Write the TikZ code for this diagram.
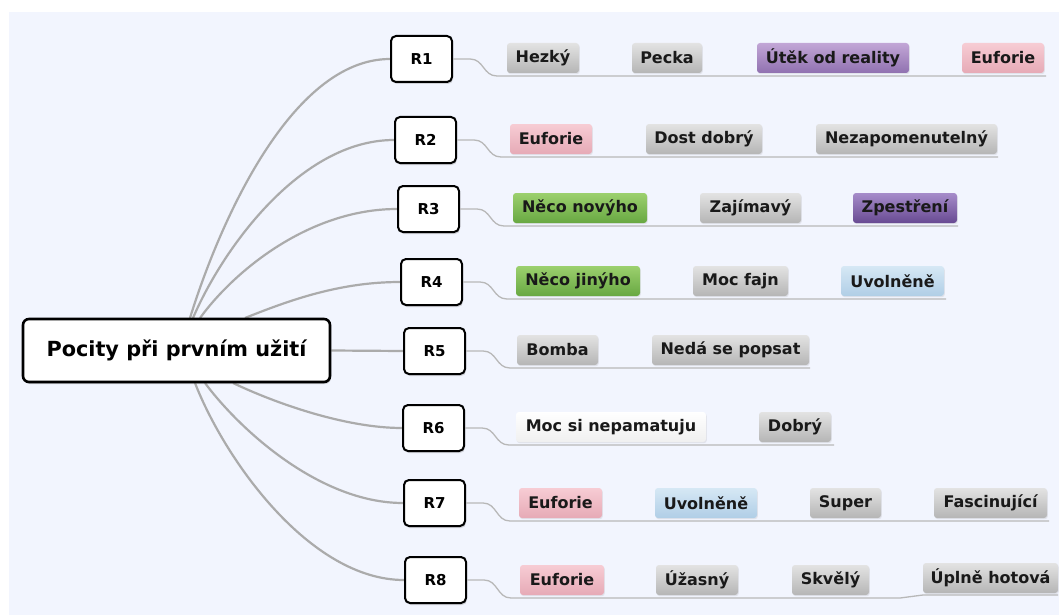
\documentclass[tikz,border=0pt]{standalone}
\usepackage{fontspec}
\setmainfont{DejaVu Sans}
\usetikzlibrary{shadows,backgrounds}
\definecolor{bgc}{HTML}{F2F5FE}
\definecolor{brc}{HTML}{ABABAB}
\definecolor{subc}{HTML}{B8B8B8}
\tikzset{
  rbox/.style={draw=black, fill=white, line width=2pt, rounded corners=5pt, minimum width=61pt, minimum height=46pt, inner sep=0pt, font=\fontsize{15}{18}\selectfont\bfseries, drop shadow={opacity=0.3, shadow xshift=1pt, shadow yshift=-2pt}},
  mainbox/.style={draw=black, fill=white, line width=2.6pt, rounded corners=6pt, minimum width=307pt, minimum height=63pt, inner sep=0pt, font=\fontsize{20.8}{24}\selectfont\bfseries, drop shadow={opacity=0.3, shadow xshift=1pt, shadow yshift=-2pt}},
  tag/.style={rounded corners=3pt, minimum height=30pt, inner sep=0pt, text=black!90, font=\fontsize{16}{18}\selectfont\bfseries, drop shadow={opacity=0.15, shadow xshift=0.8pt, shadow yshift=-1.2pt}},
  gtag/.style={tag, top color=gray!22, bottom color=gray!58},
  ptag/.style={tag, top color={rgb,255:red,247;green,204;blue,212}, bottom color={rgb,255:red,230;green,170;blue,182}},
  vtag/.style={tag, top color={rgb,255:red,194;green,166;blue,214}, bottom color={rgb,255:red,144;green,113;blue,176}},
  dvtag/.style={tag, top color={rgb,255:red,166;green,140;blue,202}, bottom color={rgb,255:red,104;green,74;blue,146}},
  etag/.style={tag, top color={rgb,255:red,156;green,208;blue,110}, bottom color={rgb,255:red,104;green,168;blue,66}},
  btag/.style={tag, top color={rgb,255:red,214;green,232;blue,245}, bottom color={rgb,255:red,176;green,206;blue,230}},
  wtag/.style={tag, top color=white, bottom color=gray!12},
  branch/.style={draw=brc, line width=2.2pt},
  subline/.style={draw=subc, line width=1.3pt},
}
\begin{document}
\begin{tikzpicture}[x=1pt,y=-1pt]
\useasboundingbox (0,0) rectangle (1059,615);
\begin{scope}[on background layer]
\fill[bgc] (9,12) rectangle (1059,615);
\end{scope}

\coordinate (s1) at (190,318);
\coordinate (s2) at (193,318);
\coordinate (s3) at (200,318);
\coordinate (s4) at (245,318);
\coordinate (s6) at (233,383);
\coordinate (s7) at (205,383);
\coordinate (s8) at (195,383);

\node[mainbox] (M) at (176.5,350.5) {Pocity při prvním užití};
\node[rbox] (R1) at (421.5,59) {R1};
\node[rbox] (R2) at (425.5,140) {R2};
\node[rbox] (R3) at (428.5,209) {R3};
\node[rbox] (R4) at (431.5,282) {R4};
\node[rbox] (R5) at (434.5,351) {R5};
\node[rbox] (R6) at (433.5,428) {R6};
\node[rbox] (R7) at (434.5,503) {R7};
\node[rbox] (R8) at (435.5,580) {R8};

\begin{scope}[on background layer]
\draw[branch] (s1) .. controls (218,227) and (290,59) .. (R1.west);
\draw[branch] (s2) .. controls (222,250) and (300,140) .. (R2.west);
\draw[branch] (s3) .. controls (235,270) and (310,209) .. (R3.west);
\draw[branch] (s4) .. controls (290,300) and (340,282) .. (R4.west);
\draw[branch] (s6) .. controls (275,403) and (345,428) .. (R6.west);
\draw[branch] (s7) .. controls (240,430) and (320,503) .. (R7.west);
\draw[branch] (s8) .. controls (225,460) and (310,580) .. (R8.west);
\draw[branch] (M.east) -- (R5.west);
\end{scope}

% sub lines
\coordinate (e1) at (1046,76);
\coordinate (e2) at (998,157);
\coordinate (e3) at (958,226);
\coordinate (e4) at (946,299);
\coordinate (e5) at (810,368);
\coordinate (e6) at (834,445);
\coordinate (e7) at (1049,521);
\coordinate (e8) at (1058,595);
\draw[subline] (R1.east) -- ++(17,0) .. controls +(14,0) and +(-14,0) .. (497,76) -- (e1);
\draw[subline] (R2.east) -- ++(17,0) .. controls +(14,0) and +(-14,0) .. (501,157) -- (e2);
\draw[subline] (R3.east) -- ++(17,0) .. controls +(14,0) and +(-14,0) .. (504,226) -- (e3);
\draw[subline] (R4.east) -- ++(17,0) .. controls +(14,0) and +(-14,0) .. (507,299) -- (e4);
\draw[subline] (R5.east) -- ++(17,0) .. controls +(14,0) and +(-14,0) .. (510,368) -- (e5);
\draw[subline] (R6.east) -- ++(17,0) .. controls +(14,0) and +(-14,0) .. (509,445) -- (e6);
\draw[subline] (R7.east) -- ++(17,0) .. controls +(14,0) and +(-14,0) .. (510,521) -- (e7);
\draw[subline] (R8.east) -- ++(17,0) .. controls +(14,0) and +(-14,0) .. (511,598) -- (900,598) -- (923,595) -- (e8);

% tags row 1
\node[gtag, minimum width=72] (t11) at (543,58) {Hezký};
\node[gtag, minimum width=70] (t12) at (667,58) {Pecka};
\node[vtag, minimum width=152] (t13) at (833,58) {Útěk od reality};
\node[ptag, minimum width=82] (t14) at (1003,58) {Euforie};
% row 2
\node[ptag, minimum width=82] (t21) at (551,139) {Euforie};
\node[gtag, minimum width=116] (t22) at (704,139) {Dost dobrý};
\node[gtag, minimum width=181] (t23) at (906.5,139) {Nezapomenutelný};
% row 3
\node[etag, minimum width=134] (t31) at (580,208) {Něco novýho};
\node[gtag, minimum width=101] (t32) at (750.5,208) {Zajímavý};
\node[dvtag, minimum width=104] (t33) at (905,208) {Zpestření};
% row 4
\node[etag, minimum width=124] (t41) at (578,281) {Něco jinýho};
\node[gtag, minimum width=95] (t42) at (740.5,281) {Moc fajn};
\node[btag, minimum width=103] (t43) at (892.5,281) {Uvolněně};
% row 5
\node[gtag, minimum width=81] (t51) at (557.5,350) {Bomba};
\node[gtag, minimum width=157] (t52) at (730.5,350) {Nedá se popsat};
% row 6
\node[wtag, minimum width=190] (t61) at (611,427) {Moc si nepamatuju};
\node[gtag, minimum width=72] (t62) at (795,427) {Dobrý};
% row 7
\node[ptag, minimum width=83] (t71) at (560.5,503) {Euforie};
\node[btag, minimum width=102] (t72) at (706,503) {Uvolněně};
\node[gtag, minimum width=71] (t73) at (845.5,503) {Super};
\node[gtag, minimum width=113] (t74) at (990.5,503) {Fascinující};
% row 8
\node[ptag, minimum width=84] (t81) at (562,580) {Euforie};
\node[gtag, minimum width=82] (t82) at (697,580) {Úžasný};
\node[gtag, minimum width=77] (t83) at (830.5,580) {Skvělý};
\node[gtag, minimum width=135] (t84) at (990.5,578) {Úplně hotová};
\end{tikzpicture}
\end{document}
